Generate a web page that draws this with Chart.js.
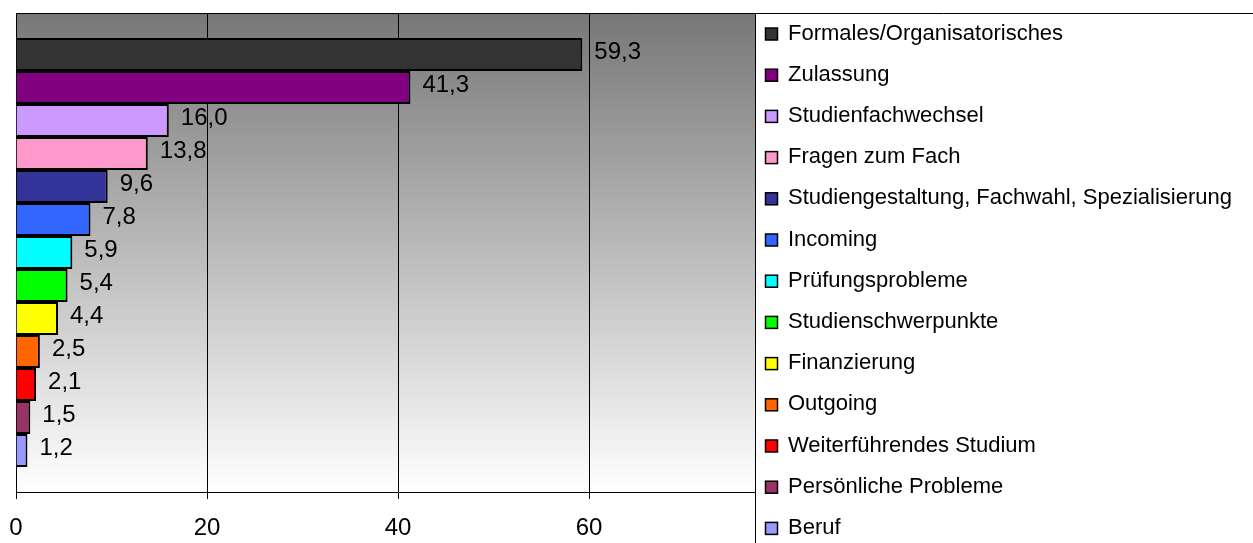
<!DOCTYPE html>
<html>
<head>
<meta charset="utf-8">
<script src="https://cdn.jsdelivr.net/npm/chart.js@4"></script>
<style>
  body { margin: 0; background: #fff; }
  #wrap { width: 1253px; height: 543px; position: relative; }
</style>
</head>
<body>
<div id="wrap"><canvas id="chart"></canvas></div>
<script>
// Anliegen (eine Kategorie, jede Zeile ist eine eigene Reihe wie im Original)
const categories = [
  "Formales/Organisatorisches",
  "Zulassung",
  "Studienfachwechsel",
  "Fragen zum Fach",
  "Studiengestaltung, Fachwahl, Spezialisierung",
  "Incoming",
  "Prüfungsprobleme",
  "Studienschwerpunkte",
  "Finanzierung",
  "Outgoing",
  "Weiterführendes Studium",
  "Persönliche Probleme",
  "Beruf"
];
const values = [59.3, 41.3, 16.0, 13.8, 9.6, 7.8, 5.9, 5.4, 4.4, 2.5, 2.1, 1.5, 1.2];
const barColors = [
  "#333333", "#800080", "#cc99ff", "#ff99cc", "#333399", "#3366ff", "#00ffff",
  "#00ff00", "#ffff00", "#ff6600", "#ff0000", "#993366", "#9999ff"
];
const xTicks = [0, 20, 40, 60, 80];

const FONT = "'Liberation Sans', Arial, sans-serif";
Chart.defaults.font.family = FONT;
Chart.defaults.color = "#000";

// grauer Verlauf hinter den Balken
const plotBackground = {
  id: "plotBackground",
  beforeDraw(chart) {
    const { ctx, chartArea: a } = chart;
    const g = ctx.createLinearGradient(0, a.top, 0, a.bottom);
    g.addColorStop(0, "#777777");
    g.addColorStop(1, "#ffffff");
    ctx.save();
    ctx.fillStyle = g;
    ctx.fillRect(a.left, a.top, a.right - a.left, a.bottom - a.top);
    ctx.restore();
  }
};

// Werte rechts neben den Balken, mit Komma
const valueLabels = {
  id: "valueLabels",
  afterDatasetsDraw(chart) {
    const ctx = chart.ctx;
    ctx.save();
    ctx.font = "24px " + FONT;
    ctx.fillStyle = "#000";
    ctx.textBaseline = "middle";
    chart.data.datasets.forEach((ds, i) => {
      const bar = chart.getDatasetMeta(i).data[0];
      ctx.fillText(ds.data[0].toFixed(1).replace(".", ","), bar.x + 12, bar.y - 2);
    });
    ctx.restore();
  }
};

// Legende als weisser Kasten, der ueber dem Diagramm liegt
const boxLegend = {
  id: "boxLegend",
  afterDraw(chart) {
    const { ctx, chartArea: a } = chart;
    const x0 = 755;
    ctx.save();
    ctx.fillStyle = "#fff";
    ctx.fillRect(x0, a.top, chart.width - x0, chart.height - a.top);
    ctx.strokeStyle = "#000";
    ctx.lineWidth = 1;
    ctx.beginPath();
    ctx.moveTo(a.left, a.top + 0.5);
    ctx.lineTo(chart.width, a.top + 0.5);
    ctx.moveTo(x0 + 0.5, a.top);
    ctx.lineTo(x0 + 0.5, chart.height);
    ctx.stroke();

    ctx.font = "22px " + FONT;
    ctx.textBaseline = "middle";
    const step = 41.2;
    chart.data.datasets.forEach((ds, i) => {
      const y = a.top + 20.5 + i * step;
      ctx.fillStyle = ds.backgroundColor;
      ctx.fillRect(765.5, y - 5.5, 12, 12);
      ctx.lineWidth = 1.5;
      ctx.strokeRect(765.5, y - 5.5, 12, 12);
      ctx.fillStyle = "#000";
      ctx.fillText(ds.label, 788, y);
    });
    ctx.restore();
  }
};

new Chart(document.getElementById("chart"), {
  type: "bar",
  data: {
    labels: [""],
    datasets: categories.map((name, i) => ({
      label: name,
      data: [values[i]],
      backgroundColor: barColors[i],
      borderColor: "#000",
      borderWidth: 2,
      categoryPercentage: 0.896,
      barPercentage: 1.0
    }))
  },
  options: {
    indexAxis: "y",
    responsive: true,
    maintainAspectRatio: false,
    animation: false,
    layout: { padding: { left: 16, top: 13, right: 473, bottom: 3 } },
    plugins: {
      legend: { display: false },
      tooltip: { enabled: false }
    },
    scales: {
      x: {
        min: 0,
        max: 80,
        afterBuildTicks: axis => { axis.ticks = xTicks.map(v => ({ value: v })); },
        afterFit: axis => {
          axis.height = 48;
          axis.paddingLeft = 0;
          axis.paddingRight = 0;
        },
        grid: { color: "#000", lineWidth: 1, tickLength: 7 },
        border: { color: "#000", width: 1 },
        ticks: { font: { size: 24 }, color: "#000", padding: 15, maxRotation: 0 }
      },
      y: {
        afterFit: axis => { axis.width = 0; },
        grid: { display: false },
        border: { color: "#000", width: 1 },
        ticks: { display: false }
      }
    }
  },
  plugins: [plotBackground, valueLabels, boxLegend]
});
</script>
</body>
</html>
